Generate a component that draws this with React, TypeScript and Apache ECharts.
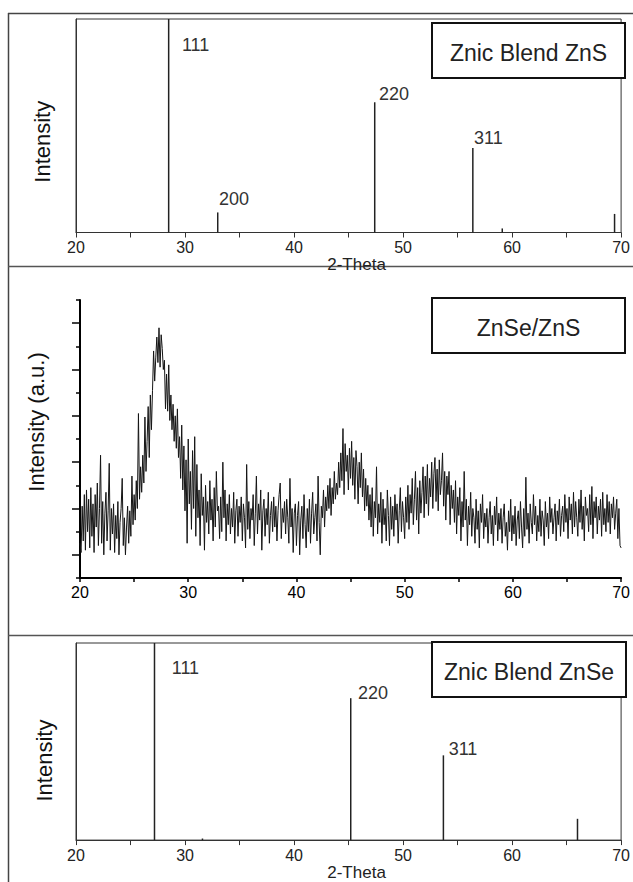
import React, { useEffect, useRef } from 'react';
import * as echarts from 'echarts';

// ---- data ----
const THETA_MIN = 20;
const THETA_MAX = 70;

// Zinc blende ZnS reference pattern
const znsTheta = [28.5, 33.0, 47.4, 56.4, 59.1, 69.4];
const znsIntensity = [100, 9.4, 61, 39.6, 1.9, 8.7];
const znsHkl = ['111', '200', '220', '311', '', ''];

// Zinc blende ZnSe reference pattern
const znseTheta = [27.2, 31.6, 45.2, 53.7, 66.0];
const znseIntensity = [100, 0.8, 72, 43, 10.8];
const znseHkl = ['111', '', '220', '311', ''];

// measured ZnSe/ZnS pattern, 2θ from 20 to 70 in 0.1° steps
const mixStart = 20;
const mixStep = 0.1;
const mixIntensity = [
  1.5, 1.1, 3.1, 1.6, 3.6, 1.2, 3.8, 2.0, 3.4, 1.3,
  3.9, 1.8, 3.2, 1.1, 3.6, 2.2, 4.1, 1.4, 3.0, 5.3,
  1.5, 3.3, 1.0, 2.8, 3.7, 1.6, 2.9, 4.95, 1.2, 3.0,
  1.9, 3.2, 1.1, 2.7, 1.7, 3.3, 1.0, 2.4, 3.0, 4.3,
  1.4, 2.6, 1.0, 2.2, 3.1, 1.5, 2.9, 1.8, 4.4, 2.3,
  3.6, 2.5, 4.2, 3.0, 7.1, 3.4, 4.8, 3.7, 5.3, 4.1,
  6.95, 4.6, 5.9, 7.4, 5.2, 7.9, 6.4, 8.1, 9.8, 8.5,
  9.5, 10.4, 9.3, 10.8, 9.1, 10.5, 9.9, 9.0, 9.4, 7.3,
  8.8, 7.2, 9.2, 6.8, 7.9, 6.4, 7.5, 5.9, 7.0, 5.6,
  7.3, 5.2, 6.1, 4.3, 6.6, 3.8, 5.7, 2.9, 5.1, 1.5,
  6.0, 3.2, 4.6, 2.1, 5.5, 3.0, 6.1, 1.8, 4.9, 2.6,
  3.8, 1.4, 4.5, 2.7, 3.5, 1.2, 4.0, 2.4, 3.3, 1.9,
  4.2, 2.5, 3.4, 1.6, 3.9, 2.2, 4.6, 2.9, 3.1, 1.7,
  3.5, 2.0, 5.0, 2.6, 3.8, 1.6, 3.2, 2.3, 3.6, 1.9,
  3.0, 2.2, 3.7, 1.5, 2.9, 3.4, 1.8, 3.1, 2.4, 3.5,
  1.6, 3.2, 2.6, 1.3, 4.9, 2.1, 3.3, 1.7, 3.0, 2.5,
  3.6, 1.4, 2.8, 4.4, 1.9, 3.2, 2.5, 3.8, 1.2, 2.9,
  3.4, 1.8, 3.0, 2.3, 3.7, 1.5, 2.7, 3.3, 2.0, 3.5,
  2.2, 3.1, 1.6, 2.9, 3.6, 4.1, 1.7, 3.0, 2.4, 3.3,
  1.9, 3.4, 2.6, 1.5, 4.3, 2.2, 3.0, 1.1, 2.8, 3.2,
  1.4, 2.7, 3.3, 1.0, 2.5, 3.1, 1.7, 3.6, 2.3, 1.3,
  3.0, 2.0, 3.4, 1.5, 2.8, 3.7, 1.9, 2.6, 3.2, 1.6,
  4.4, 2.4, 1.0, 3.1, 2.6, 3.8, 2.2, 3.5, 2.9, 4.0,
  3.0, 4.3, 2.7, 3.9, 3.2, 4.6, 3.4, 4.1, 3.6, 5.0,
  3.9, 5.4, 4.2, 6.45, 3.6, 5.8, 4.6, 5.3, 3.8, 5.6,
  4.3, 5.9, 4.0, 5.2, 3.4, 5.5, 4.8, 3.2, 5.0, 3.9,
  5.4, 3.5, 4.7, 2.9, 4.3, 3.1, 4.0, 2.5, 3.6, 2.2,
  3.9, 1.8, 3.3, 2.6, 4.8, 1.9, 3.2, 2.4, 3.7, 1.5,
  3.4, 2.3, 3.0, 1.6, 3.8, 2.7, 1.4, 3.5, 2.1, 3.1,
  1.8, 3.6, 2.5, 3.2, 1.5, 2.9, 3.9, 2.0, 3.3, 2.6,
  1.7, 3.5, 2.4, 4.0, 2.1, 3.6, 2.8, 4.3, 2.3, 3.4,
  4.6, 2.5, 3.9, 1.9, 4.2, 2.8, 3.7, 4.8, 2.6, 4.4,
  3.2, 4.9, 2.7, 4.3, 3.5, 5.0, 3.0, 4.5, 5.2, 3.3,
  4.7, 2.9, 5.1, 3.6, 4.2, 5.4, 3.1, 4.6, 2.5, 4.4,
  3.6, 4.6, 2.3, 4.0, 3.0, 3.8, 2.4, 4.2, 1.9, 3.5,
  2.7, 3.9, 1.6, 3.3, 2.2, 4.6, 2.5, 3.4, 1.4, 3.1,
  2.3, 3.7, 1.8, 3.0, 2.6, 1.5, 3.4, 2.1, 2.9, 1.3,
  3.2, 2.4, 3.6, 1.7, 2.8, 2.2, 3.0, 1.5, 2.6, 3.3,
  1.9, 2.7, 1.4, 3.1, 2.3, 3.5, 1.6, 2.8, 2.1, 3.0,
  1.5, 2.6, 3.2, 1.8, 2.4, 1.2, 2.9, 2.0, 3.4, 1.6,
  2.7, 1.9, 3.1, 1.4, 2.5, 2.9, 1.7, 3.3, 2.2, 1.3,
  3.0, 1.8, 4.35, 2.1, 2.8, 1.5, 3.2, 2.4, 1.9, 3.6,
  2.3, 3.1, 1.6, 2.7, 2.0, 3.4, 1.8, 2.9, 2.5, 1.4,
  3.3, 2.2, 2.8, 1.7, 3.5, 2.4, 3.0, 1.9, 2.6, 3.2,
  1.6, 2.9, 2.3, 3.4, 1.8, 2.7, 3.1, 2.0, 3.6, 2.4,
  3.0, 1.7, 3.5, 2.5, 3.2, 1.9, 3.7, 2.2, 3.3, 2.6,
  1.8, 3.4, 2.4, 3.8, 2.1, 3.1, 1.6, 3.5, 2.7, 3.0,
  2.0, 3.6, 2.3, 3.95, 1.7, 3.3, 2.6, 3.5, 1.9, 3.1,
  2.5, 3.4, 1.8, 3.7, 2.3, 3.0, 2.0, 3.6, 2.4, 3.3,
  1.9, 3.2, 2.6, 3.5, 2.1, 2.8, 3.4, 1.7, 3.0, 1.4,
  1.3,
];

const FONT = 'Liberation Sans, Arial, Helvetica, sans-serif';
const NARROW = '"Liberation Sans Narrow", "Arial Narrow", Liberation Sans, sans-serif';

// label placement for the hkl annotations (pixel offsets from bar top)
const topLabelPos: Record<string, number[]> = { '111': [14, 26], '200': [2, -13], '220': [5, -8], '311': [2, -10] };
const botLabelPos: Record<string, number[]> = { '111': [18, 25], '220': [8, -5], '311': [6, -6] };

function stickData(theta: number[], inten: number[], hkl: string[], pos: Record<string, number[]>) {
  return theta.map((t, i) => ({
    value: [t, inten[i]],
    label: hkl[i]
      ? {
          show: true,
          formatter: hkl[i],
          position: pos[hkl[i]],
          align: 'left',
          verticalAlign: 'middle',
          fontSize: 18,
          color: '#333',
          fontFamily: FONT,
        }
      : { show: false },
  }));
}

function buildOption() {
  const mixData = mixIntensity.map((v, i) => [+(mixStart + i * mixStep).toFixed(2), v]);

  const tenLabel = (v: number) => (v % 10 === 0 ? String(v) : '');

  const thinX = (gridIndex: number) => ({
    type: 'value',
    gridIndex,
    position: 'bottom',
    min: THETA_MIN,
    max: THETA_MAX,
    interval: 5,
    axisLine: { show: true, onZero: false, lineStyle: { color: '#333', width: 1 } },
    axisTick: { show: true, inside: false, length: 5, lineStyle: { color: '#333', width: 1 } },
    axisLabel: { formatter: tenLabel, fontSize: 16, color: '#222', margin: 7, fontFamily: FONT },
    splitLine: { show: false },
    name: '2-Theta',
    nameLocation: 'middle',
    nameGap: 16,
    nameTextStyle: { fontSize: 17, color: '#222', fontFamily: FONT, padding: [0, 0, 0, 16] },
  });

  const stickY = (gridIndex: number, gap: number, pad: number[]) => ({
    type: 'value',
    gridIndex,
    position: 'left',
    min: 0,
    max: 100,
    axisLine: { show: true, onZero: false, lineStyle: { color: '#333', width: 1 } },
    axisTick: { show: false },
    axisLabel: { show: false },
    splitLine: { show: false },
    name: 'Intensity',
    nameLocation: 'middle',
    nameGap: gap,
    nameTextStyle: { fontSize: 22, color: '#111', fontFamily: FONT, padding: pad },
  });

  return {
    animation: false,
    backgroundColor: '#fff',
    grid: [
      { left: 76, top: 19, width: 552, height: 213.5, show: true, borderColor: '#333', borderWidth: 1, backgroundColor: 'transparent' },
      { left: 80, top: 300, width: 548, height: 278 },
      { left: 76, top: 643, width: 552, height: 210, show: true, borderColor: '#333', borderWidth: 1, backgroundColor: 'transparent' },
    ],
    xAxis: [
      thinX(0),
      {
        type: 'value',
        gridIndex: 1,
        position: 'bottom',
        min: THETA_MIN,
        max: THETA_MAX,
        interval: 5,
        axisLine: { show: true, onZero: false, lineStyle: { color: '#000', width: 2 } },
        axisTick: { show: true, inside: false, length: 4, lineStyle: { color: '#000', width: 1.5 } },
        axisLabel: { formatter: tenLabel, fontSize: 16, color: '#000', margin: 6, fontFamily: NARROW },
        splitLine: { show: false },
      },
      thinX(2),
    ],
    yAxis: [
      stickY(0, 23, [0, 32, 0, 0]),
      {
        type: 'value',
        gridIndex: 1,
        position: 'left',
        min: 0,
        max: 12,
        interval: 2,
        axisLine: { show: true, onZero: false, lineStyle: { color: '#000', width: 2 } },
        axisTick: { show: true, inside: false, length: 4, lineStyle: { color: '#000', width: 1.5 } },
        minorTick: { show: true, splitNumber: 2, length: 8, lineStyle: { color: '#000', width: 1.5 } },
        axisLabel: { show: false },
        splitLine: { show: false },
        name: 'Intensity (a.u.)',
        nameLocation: 'middle',
        nameGap: 33,
        nameTextStyle: { fontSize: 22, color: '#111', fontFamily: FONT, padding: [0, 0, 0, 34] },
      },
      stickY(2, 21, [0, 38, 0, 0]),
    ],
    series: [
      {
        name: 'Znic Blend ZnS',
        type: 'bar',
        xAxisIndex: 0,
        yAxisIndex: 0,
        barWidth: 1.5,
        itemStyle: { color: '#222' },
        data: stickData(znsTheta, znsIntensity, znsHkl, topLabelPos),
      },
      {
        name: 'ZnSe/ZnS',
        type: 'line',
        xAxisIndex: 1,
        yAxisIndex: 1,
        showSymbol: false,
        symbol: 'none',
        lineStyle: { color: '#151515', width: 1 },
        data: mixData,
      },
      {
        name: 'Znic Blend ZnSe',
        type: 'bar',
        xAxisIndex: 2,
        yAxisIndex: 2,
        barWidth: 1.5,
        itemStyle: { color: '#222' },
        data: stickData(znseTheta, znseIntensity, znseHkl, botLabelPos),
      },
    ],
    graphic: [
      { type: 'line', shape: { x1: 8.5, y1: 13, x2: 8.5, y2: 882 }, style: { stroke: '#444', lineWidth: 1.5 } },
      { type: 'line', shape: { x1: 8, y1: 13.5, x2: 633, y2: 13.5 }, style: { stroke: '#444', lineWidth: 1.5 } },
      { type: 'line', shape: { x1: 8, y1: 266.5, x2: 633, y2: 266.5 }, style: { stroke: '#555', lineWidth: 1.5 } },
      { type: 'line', shape: { x1: 8, y1: 635.5, x2: 633, y2: 635.5 }, style: { stroke: '#555', lineWidth: 1.5 } },
      { type: 'rect', z: 10, shape: { x: 432, y: 23, width: 193, height: 55 }, style: { fill: '#fff', stroke: '#111', lineWidth: 2 } },
      { type: 'text', z: 11, style: { text: 'Znic Blend ZnS', x: 528.5, y: 53, align: 'center', verticalAlign: 'middle', textAlign: 'center', textVerticalAlign: 'middle', font: `23px ${FONT}`, fill: '#222' } },
      { type: 'rect', z: 10, shape: { x: 432, y: 298, width: 193, height: 55 }, style: { fill: '#fff', stroke: '#111', lineWidth: 2 } },
      { type: 'text', z: 11, style: { text: 'ZnSe/ZnS', x: 528.5, y: 328, align: 'center', verticalAlign: 'middle', textAlign: 'center', textVerticalAlign: 'middle', font: `23px ${FONT}`, fill: '#222' } },
      { type: 'rect', z: 10, shape: { x: 432, y: 642, width: 194, height: 55 }, style: { fill: '#fff', stroke: '#111', lineWidth: 2 } },
      { type: 'text', z: 11, style: { text: 'Znic Blend ZnSe', x: 529, y: 671.5, align: 'center', verticalAlign: 'middle', textAlign: 'center', textVerticalAlign: 'middle', font: `23px ${FONT}`, fill: '#222' } },
    ],
  };
}

export default function App() {
  const ref = useRef<HTMLDivElement>(null);
  useEffect(() => {
    const html = document.documentElement;
    const body = document.body;
    html.style.margin = '0';
    html.style.overflow = 'hidden';
    body.style.margin = '0';
    body.style.overflow = 'hidden';
    if (!ref.current) return;
    const chart = echarts.init(ref.current, undefined, { renderer: 'svg' });
    chart.setOption(buildOption() as any);
    return () => chart.dispose();
  }, []);
  return (
    <div
      ref={ref}
      style={{ position: 'fixed', left: 0, top: 0, width: 633, height: 882, background: '#fff', overflow: 'hidden' }}
    />
  );
}
